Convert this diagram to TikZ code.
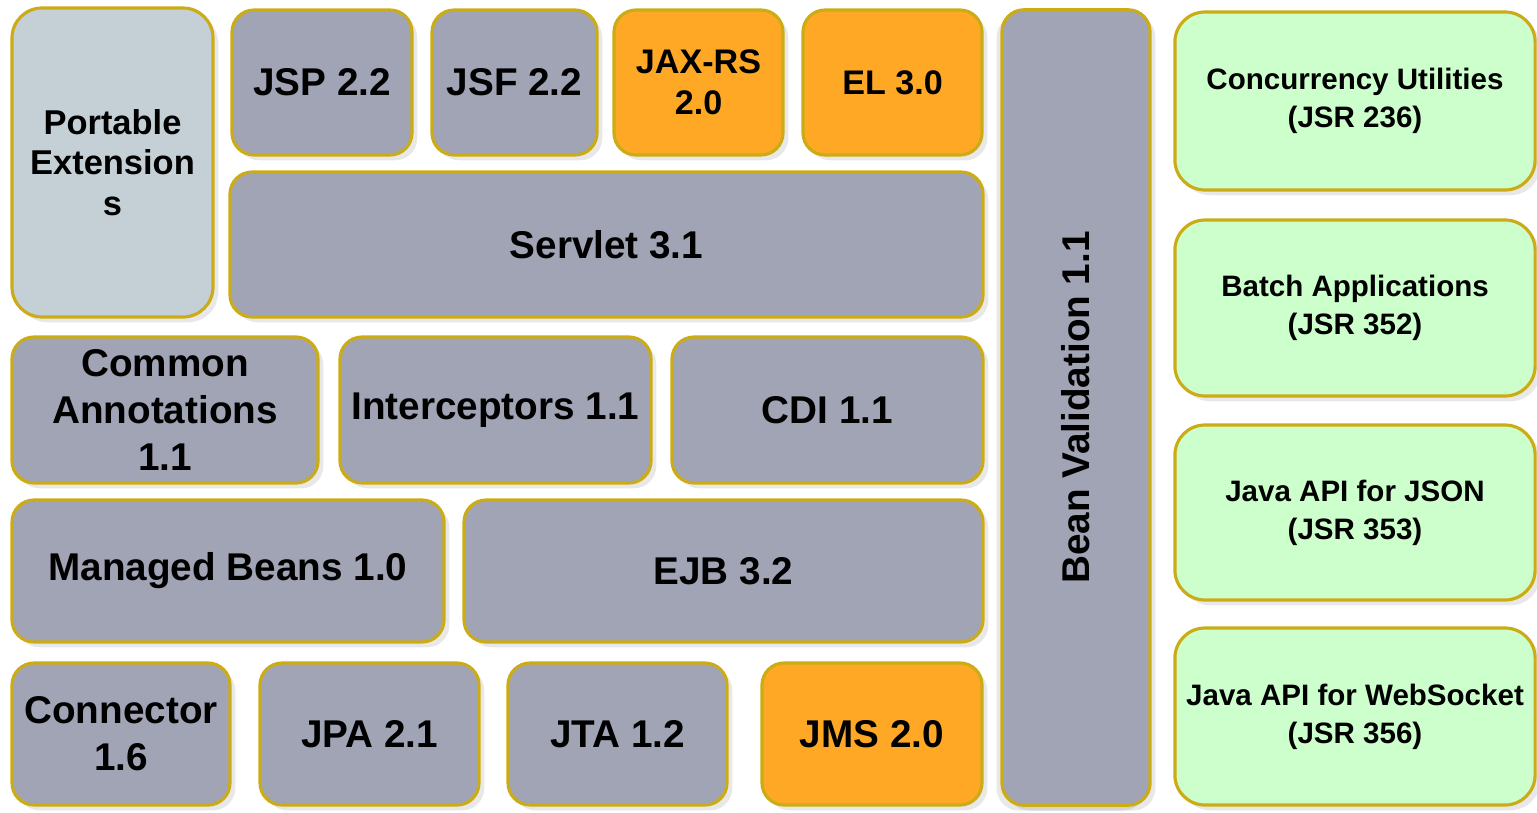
\documentclass[tikz,border=0pt]{standalone}
\usepackage{fontspec}
\setmainfont{Liberation Sans}
\usetikzlibrary{shadows}

\definecolor{rimGold}{RGB}{204,172,22}
\definecolor{specGray}{RGB}{160,164,181}
\definecolor{paleGray}{RGB}{196,208,214}
\definecolor{newOrange}{RGB}{255,168,38}
\definecolor{apiGreen}{RGB}{204,255,204}

\begin{document}
\begin{tikzpicture}
[x=0.01cm,y=-0.01cm,
  block/.style={draw=rimGold,line width=0.9pt,rounded corners=0.22cm,align=center,
    inner sep=2pt,font=\bfseries\fontsize{11}{13.3}\selectfont,
    drop shadow={shadow xshift=1.5pt,shadow yshift=-1.5pt,opacity=0.18}},%
  grayBlock/.style={block,fill=specGray},%
  orangeBlock/.style={block,fill=newOrange},%
  smallOrangeBlock/.style={orangeBlock,font=\bfseries\fontsize{9.7}{11.6}\selectfont},%
  paleBlock/.style={block,fill=paleGray,rounded corners=0.3cm,
    font=\bfseries\fontsize{9.8}{11.6}\selectfont},%
  greenBlock/.style={block,fill=apiGreen,rounded corners=0.3cm,
    font=\bfseries\fontsize{8.4}{10.8}\selectfont}]
\useasboundingbox (0,0) rectangle (1537,812);
%% web, core and persistence blocks
\foreach \name/\xa/\ya/\xb/\yb/\kind/\txt in {
  portable/12/8/213/317/paleBlock/{Portable\\Extension\\s},
  jsp/232/10/412/155/grayBlock/{JSP 2.2},
  jsf/432/10/597/155/grayBlock/{JSF 2.2},
  jaxrs/614/10/783/155/smallOrangeBlock/{JAX-RS\\2.0},
  el/803/10/982/155/smallOrangeBlock/{EL 3.0},
  servlet/230/172/983/317/grayBlock/{Servlet 3.1},
  annot/12/337/318/483/grayBlock/{Common\\Annotations\\1.1},
  intercept/340/337/651/483/grayBlock/{Interceptors 1.1},
  cdi/672/337/983/483/grayBlock/{CDI 1.1},
  managed/12/500/444/642/grayBlock/{Managed Beans 1.0},
  ejb/464/500/983/642/grayBlock/{EJB 3.2},
  connector/12/663/230/805/grayBlock/{Connector\\1.6},
  jpa/260/663/479/805/grayBlock/{JPA 2.1},
  jta/508/663/727/805/grayBlock/{JTA 1.2},
  jms/762/663/982/805/orangeBlock/{JMS 2.0}}
{
  \pgfmathsetmacro\w{(\xb-\xa)*0.01}
  \pgfmathsetmacro\h{(\yb-\ya)*0.01}
  \node (\name) at ({(\xa+\xb)/2},{(\ya+\yb)/2}) [\kind,minimum width=\w cm,minimum height=\h cm] {\txt};
}
%% bean validation spans all rows
\node (beanval) at (1076,407.5) [grayBlock,rotate=90,minimum width=7.95cm,minimum height=1.48cm,
  drop shadow={shadow xshift=-1.5pt,shadow yshift=-1.5pt,opacity=0.18}] {Bean Validation 1.1};
%% new standalone APIs
\foreach \name/\ya/\yb/\txt in {
  concurrency/12/190/{Concurrency Utilities\\(JSR 236)},
  batch/220/396/{Batch Applications\\(JSR 352)},
  json/425/600/{Java API for JSON\\(JSR 353)},
  websocket/628/805/{Java API for WebSocket\\(JSR 356)}}
{
  \pgfmathsetmacro\h{(\yb-\ya)*0.01}
  \node (\name) at (1355,{(\ya+\yb)/2}) [greenBlock,minimum width=3.6cm,minimum height=\h cm] {\txt};
}
\end{tikzpicture}
\end{document}
